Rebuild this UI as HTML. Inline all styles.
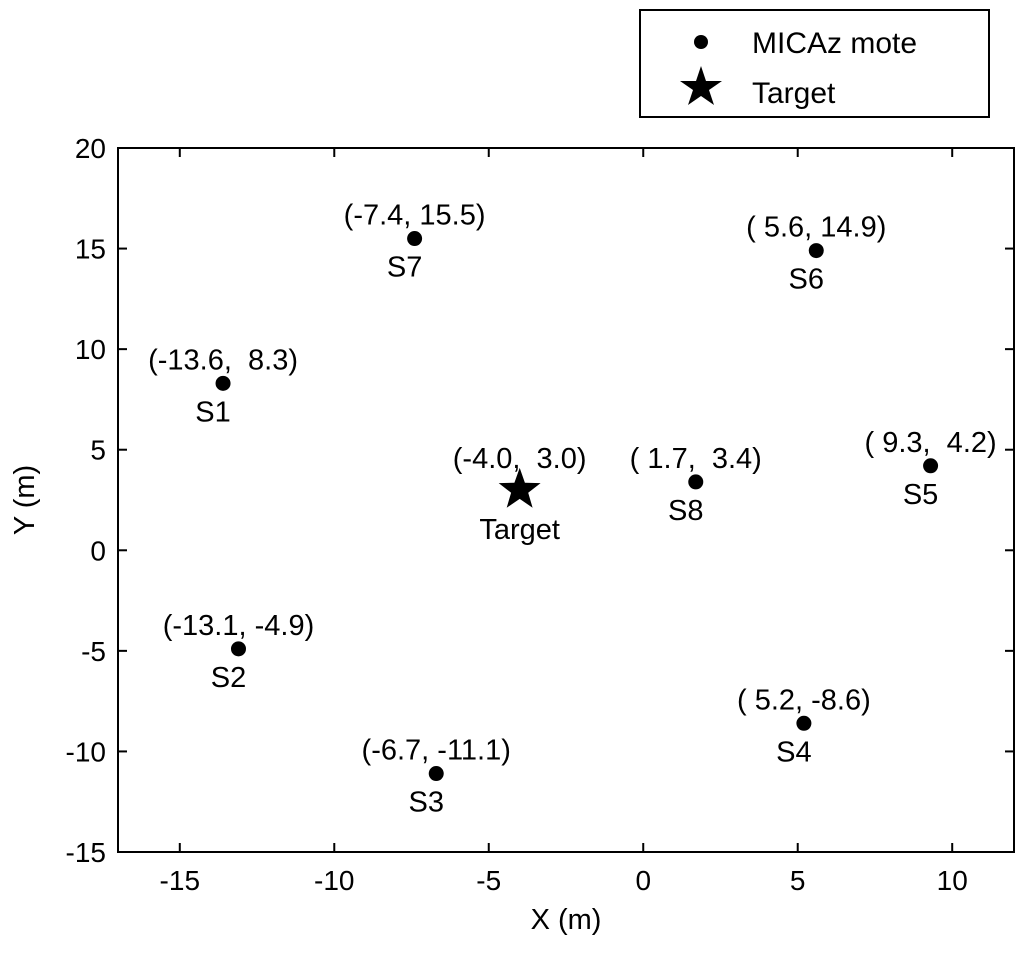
<!DOCTYPE html>
<html><head><meta charset="utf-8"><style>
html,body{margin:0;padding:0;background:#fff;}
svg text{font-family:"Liberation Sans",Arial,sans-serif;fill:#000;white-space:pre;}
</style></head><body>
<svg id="chart" width="1024" height="951" xmlns="http://www.w3.org/2000/svg">
<rect x="118" y="148" width="896" height="704" fill="#fff" stroke="#000" stroke-width="2"/>
<g id="ticks"></g>
<g id="marks"></g>
<text x="566" y="929" font-size="29" text-anchor="middle">X (m)</text>
<text x="0" y="0" font-size="29" text-anchor="middle" transform="translate(34,500) rotate(-90)">Y (m)</text>
<g>
<rect x="640" y="10" width="349" height="107" fill="#fff" stroke="#000" stroke-width="2"/>
<circle cx="701" cy="42" r="7" fill="#000"/>
<text x="752" y="53" font-size="30">MICAz mote</text>
<polygon points="701,66 706,81 722,81 709,90 714,105 701,96 688,105 693,90 680,81 696,81" fill="#000"/>
<text x="752" y="103" font-size="30">Target</text>
</g>
</svg>
<script>
const sensorNames=["S1","S2","S3","S4","S5","S6","S7","S8"];
const sensorX=[-13.6,-13.1,-6.7,5.2,9.3,5.6,-7.4,1.7];
const sensorY=[8.3,-4.9,-11.1,-8.6,4.2,14.9,15.5,3.4];
const sensorLabels=["(-13.6,  8.3)","(-13.1, -4.9)","(-6.7, -11.1)","( 5.2, -8.6)","( 9.3,  4.2)","( 5.6, 14.9)","(-7.4, 15.5)","( 1.7,  3.4)"];
const targetX=[-4.0];
const targetY=[3.0];
const targetLabels=["(-4.0,  3.0)"];
const xTicks=[-15,-10,-5,0,5,10];
const yTicks=[-15,-10,-5,0,5,10,15,20];
const NS="http://www.w3.org/2000/svg";
const L=118,R=1014,T=148,B=852,xMin=-17,xMax=12,yMin=-15,yMax=20;
const sx=v=>L+(v-xMin)/(xMax-xMin)*(R-L);
const sy=v=>B-(v-yMin)/(yMax-yMin)*(B-T);
function mk(tag,attrs,parent,txt){const e=document.createElementNS(NS,tag);for(const k in attrs)e.setAttribute(k,attrs[k]);if(txt!==undefined)e.textContent=txt;parent.appendChild(e);return e;}
const tg=document.getElementById('ticks'),mg=document.getElementById('marks');
xTicks.forEach(v=>{const x=sx(v);
mk('line',{x1:x,x2:x,y1:B,y2:B-9,stroke:'#000','stroke-width':2},tg);
mk('line',{x1:x,x2:x,y1:T,y2:T+9,stroke:'#000','stroke-width':2},tg);
const t=mk('text',{x:x,y:B+38,'font-size':28,'text-anchor':'middle'},tg,String(v));

});
yTicks.forEach(v=>{const y=sy(v);
mk('line',{x1:L,x2:L+9,y1:y,y2:y,stroke:'#000','stroke-width':2},tg);
mk('line',{x1:R,x2:R-9,y1:y,y2:y,stroke:'#000','stroke-width':2},tg);
const t=mk('text',{x:L-12,y:y+10,'font-size':28,'text-anchor':'end'},tg,String(v));

});
sensorNames.forEach((n,i)=>{const x=sx(sensorX[i]),y=sy(sensorY[i]);
const c=mk('circle',{cx:x,cy:y,r:7.5,fill:'#000'},mg);


const a=mk('text',{x:x,y:y-14,'font-size':29,'text-anchor':'middle'},mg,sensorLabels[i]);


const b=mk('text',{x:x-10,y:y+38,'font-size':29,'text-anchor':'middle'},mg,n);

});
targetX.forEach((tx,i)=>{const x=sx(tx),y=sy(targetY[i]);const R1=22,R2=9;let p=[];
for(let k=0;k<10;k++){const r=k%2?R2:R1,a=-Math.PI/2+k*Math.PI/5;p.push((x+r*Math.cos(a)).toFixed(1)+','+(y+r*Math.sin(a)).toFixed(1));}
const s=mk('polygon',{points:p.join(' '),fill:'#000'},mg);


const a=mk('text',{x:x,y:y-22,'font-size':29,'text-anchor':'middle'},mg,targetLabels[i]);


const b=mk('text',{x:x,y:y+49,'font-size':29,'text-anchor':'middle'},mg,'Target');

});
</script>
</body></html>
